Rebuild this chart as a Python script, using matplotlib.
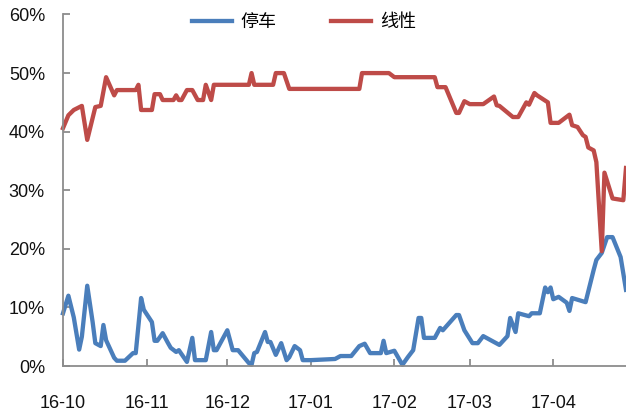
import matplotlib
matplotlib.use("Agg")
import matplotlib.pyplot as plt
import matplotlib.dates as mdates
import pandas as pd

plt.rcParams['font.family'] = ['Liberation Sans', 'Noto Sans CJK SC', 'DejaVu Sans']

# 线性 share (%)
linear_dates = [
    "2016-10-01", "2016-10-03", "2016-10-05", "2016-10-08", "2016-10-10", "2016-10-13",
    "2016-10-15", "2016-10-17", "2016-10-20", "2016-10-21", "2016-10-28", "2016-10-29",
    "2016-10-30", "2016-11-03", "2016-11-04", "2016-11-06", "2016-11-07", "2016-11-11",
    "2016-11-12", "2016-11-13", "2016-11-14", "2016-11-16", "2016-11-18", "2016-11-20",
    "2016-11-22", "2016-11-23", "2016-11-25", "2016-11-26", "2016-12-09", "2016-12-10",
    "2016-12-11", "2016-12-18", "2016-12-19", "2016-12-22", "2016-12-24", "2017-01-19",
    "2017-01-20", "2017-01-30", "2017-02-01", "2017-02-16", "2017-02-17", "2017-02-20",
    "2017-02-24", "2017-02-25", "2017-02-27", "2017-03-01", "2017-03-06", "2017-03-10",
    "2017-03-11", "2017-03-12", "2017-03-17", "2017-03-19", "2017-03-22", "2017-03-23",
    "2017-03-25", "2017-03-26", "2017-03-30", "2017-03-31", "2017-04-03", "2017-04-07",
    "2017-04-08", "2017-04-10", "2017-04-12", "2017-04-13", "2017-04-14", "2017-04-16",
    "2017-04-17", "2017-04-19", "2017-04-20", "2017-04-23", "2017-04-27", "2017-04-28",
]
linear_vals = [
    40.6, 42.8, 43.7, 44.4, 38.6, 44.2,
    44.4, 49.3, 46.2, 47.1, 47.1, 48.0,
    43.7, 43.7, 46.4, 46.4, 45.4, 45.4,
    46.2, 45.4, 45.4, 47.1, 47.1, 45.4,
    45.4, 48.0, 45.4, 48.0, 48.0, 50.0,
    48.0, 48.0, 50.0, 50.0, 47.3, 47.3,
    50.0, 50.0, 49.3, 49.3, 47.6, 47.6,
    43.2, 43.2, 45.2, 44.7, 44.7, 46.0,
    44.5, 44.4, 42.5, 42.5, 45.0, 44.6,
    46.6, 46.2, 45.0, 41.5, 41.5, 42.9,
    41.1, 40.8, 39.4, 39.1, 37.3, 36.8,
    34.8, 19.6, 33.0, 28.6, 28.3, 33.8,
]

# 停车 share (%)
parking_dates = [
    "2016-10-01", "2016-10-03", "2016-10-05", "2016-10-07", "2016-10-08", "2016-10-10",
    "2016-10-12", "2016-10-13", "2016-10-15", "2016-10-16", "2016-10-17", "2016-10-20",
    "2016-10-21", "2016-10-24", "2016-10-27", "2016-10-28", "2016-10-30", "2016-10-31",
    "2016-11-03", "2016-11-04", "2016-11-05", "2016-11-07", "2016-11-09", "2016-11-10",
    "2016-11-12", "2016-11-13", "2016-11-16", "2016-11-18", "2016-11-19", "2016-11-23",
    "2016-11-25", "2016-11-26", "2016-11-27", "2016-12-01", "2016-12-03", "2016-12-05",
    "2016-12-09", "2016-12-10", "2016-12-11", "2016-12-12", "2016-12-15", "2016-12-16",
    "2016-12-17", "2016-12-19", "2016-12-21", "2016-12-23", "2016-12-24", "2016-12-26",
    "2016-12-28", "2016-12-29", "2017-01-01", "2017-01-10", "2017-01-12", "2017-01-16",
    "2017-01-19", "2017-01-21", "2017-01-23", "2017-01-27", "2017-01-28", "2017-01-29",
    "2017-02-01", "2017-02-04", "2017-02-06", "2017-02-08", "2017-02-10", "2017-02-11",
    "2017-02-12", "2017-02-16", "2017-02-18", "2017-02-19", "2017-02-24", "2017-02-25",
    "2017-02-27", "2017-03-02", "2017-03-04", "2017-03-06", "2017-03-12", "2017-03-15",
    "2017-03-16", "2017-03-18", "2017-03-19", "2017-03-23", "2017-03-24", "2017-03-27",
    "2017-03-29", "2017-03-30", "2017-03-31", "2017-04-01", "2017-04-03", "2017-04-06",
    "2017-04-07", "2017-04-08", "2017-04-13", "2017-04-16", "2017-04-17", "2017-04-19",
    "2017-04-21", "2017-04-23", "2017-04-26", "2017-04-28",
]
parking_vals = [
    9.0, 12.0, 8.3, 2.8, 5.0, 13.7,
    7.5, 3.9, 3.4, 7.0, 4.4, 1.4,
    0.9, 0.9, 2.2, 2.2, 11.6, 9.6,
    7.5, 4.3, 4.3, 5.6, 3.9, 3.1,
    2.4, 2.7, 0.7, 4.8, 1.0, 1.0,
    5.8, 2.7, 2.7, 6.1, 2.7, 2.7,
    0.5, 0.2, 2.2, 2.4, 5.8, 4.1,
    4.1, 1.9, 3.9, 1.0, 1.5, 3.4,
    2.7, 1.0, 1.0, 1.2, 1.7, 1.7,
    3.4, 3.8, 2.2, 2.2, 4.3, 2.2,
    2.6, 0.2, 1.5, 2.7, 8.2, 8.2,
    4.8, 4.8, 6.5, 6.1, 8.7, 8.7,
    6.1, 3.9, 3.9, 5.1, 3.6, 5.1,
    8.2, 5.8, 9.0, 8.5, 9.0, 9.0,
    13.4, 12.6, 13.4, 11.4, 11.8, 10.8,
    9.4, 11.6, 10.9, 16.4, 18.1, 19.3,
    22.0, 22.0, 18.6, 13.0,
]

series_names = ["停车", "线性"]
y_ticks = [0, 10, 20, 30, 40, 50, 60]
x_start, x_end = "2016-10-01", "2017-04-28"

BLUE = "#4A7EBB"
RED = "#BE4B48"
AXIS = "#8C8C8C"

fig = plt.figure(figsize=(6.26, 4.15), dpi=100)
ax = fig.add_axes([63 / 626, 1 - 366 / 415, 1 - 63 / 626, (366 - 14.5) / 415])

ax.plot(pd.to_datetime(parking_dates), parking_vals, color=BLUE, lw=3.1,
        solid_joinstyle="round", label=series_names[0], clip_on=False)
ax.plot(pd.to_datetime(linear_dates), linear_vals, color=RED, lw=3.1,
        solid_joinstyle="round", label=series_names[1], clip_on=False)

ax.set_xlim(pd.Timestamp(x_start), pd.Timestamp(x_end))
ax.set_ylim(0, 60)
ax.set_yticks(y_ticks)
ax.set_yticklabels([f"{t}%" for t in y_ticks])

ax.xaxis.set_major_locator(mdates.MonthLocator())
ax.xaxis.set_major_formatter(mdates.DateFormatter("%y-%m"))

for side in ("top", "right"):
    ax.spines[side].set_visible(False)
for side in ("left", "bottom"):
    ax.spines[side].set_color(AXIS)
    ax.spines[side].set_linewidth(1.3)

ax.tick_params(axis="both", direction="in", length=5, width=1.3, color=AXIS,
               labelsize=13, labelcolor="#111111")
ax.tick_params(axis="x", pad=21)
ax.tick_params(axis="y", pad=13)

leg = ax.legend(loc="center", bbox_to_anchor=(0.428, 0.979), ncol=2, frameon=False,
                prop={"family": ["Noto Sans CJK SC"], "size": 13},
                handlelength=2.2, handletextpad=0.5, columnspacing=3.0,
                borderpad=0, borderaxespad=0)

fig.savefig("out.png", dpi=100)
